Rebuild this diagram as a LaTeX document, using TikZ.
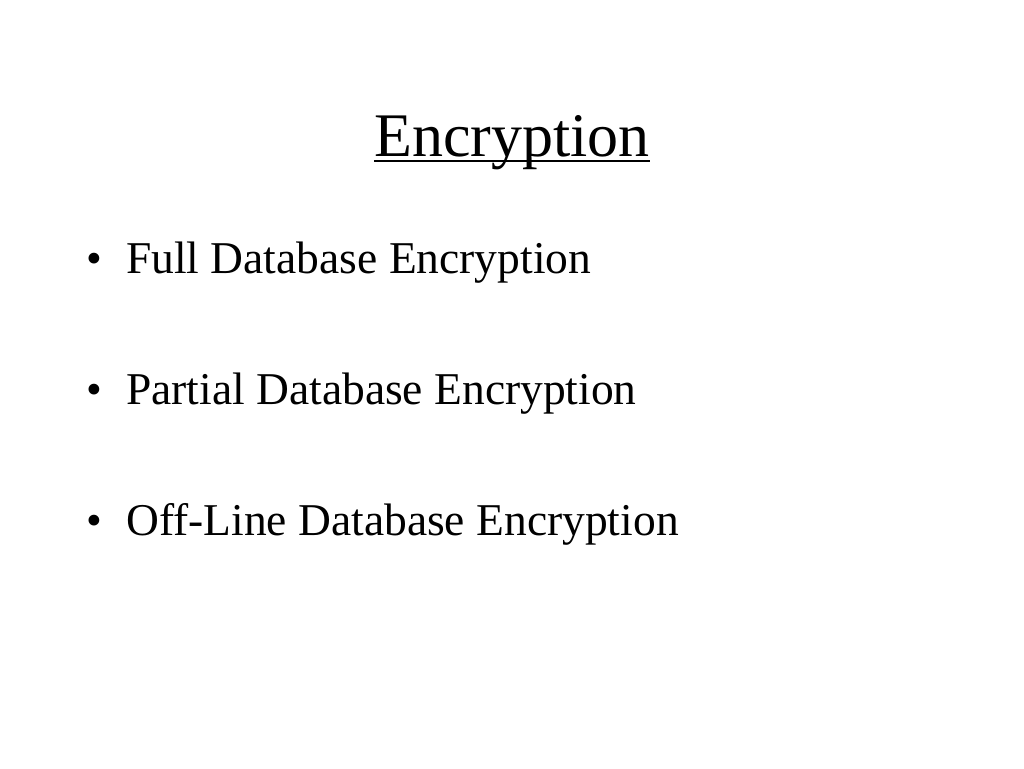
\documentclass[tikz,border=0pt]{standalone}
\usepackage{fontspec}
\setmainfont{Liberation Serif}
\begin{document}
\begin{tikzpicture}[x=1pt,y=-1pt,
  title/.style={inner sep=0pt,anchor=base,font=\fontsize{62}{70}\selectfont},
  item/.style={inner sep=0pt,anchor=base west,font=\fontsize{45.5}{52}\selectfont},
  dot/.style={inner sep=0pt,anchor=base west,font=\fontsize{45}{52}\selectfont}]
\useasboundingbox[fill=white] (0,0) rectangle (1024,768);
\node[title] (t) at (512,156) {Encryption};
\draw[line width=2.8pt] (t.base west) ++(0,5) coordinate (u1) -- (t.base east |- u1);
\node[dot] (b1) at (86,273) {\textbullet};
\node[item] (i1) at (126,273) {Full Database Encryption};
\node[dot] (b2) at (86,404) {\textbullet};
\node[item] (i2) at (126,404) {Partial Database Encryption};
\node[dot] (b3) at (86,535) {\textbullet};
\node[item] (i3) at (126,535) {Off-Line Database Encryption};
\end{tikzpicture}
\end{document}
